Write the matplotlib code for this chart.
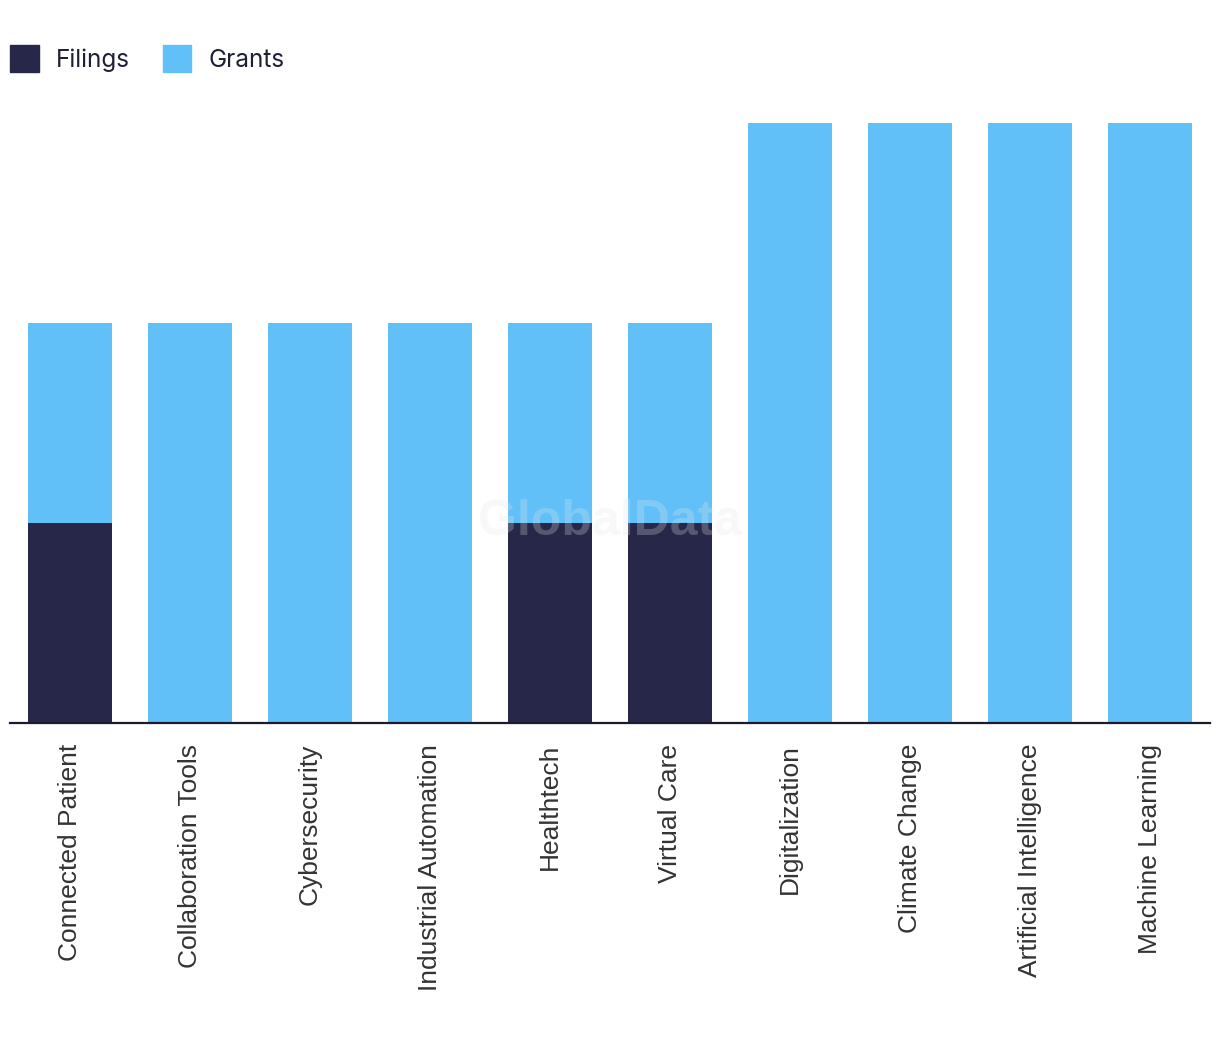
import numpy as np
import matplotlib.pyplot as plt
from matplotlib.patches import Patch

categories = ["Connected Patient", "Collaboration Tools", "Cybersecurity",
              "Industrial Automation", "Healthtech", "Virtual Care",
              "Digitalization", "Climate Change", "Artificial Intelligence",
              "Machine Learning"]
filings = [1, 0, 0, 0, 1, 1, 0, 0, 0, 0]
grants = [1, 2, 2, 2, 1, 1, 3, 3, 3, 3]

dark = "#272849"
light = "#61c0f8"

fig = plt.figure(figsize=(12.2, 10.42), dpi=100)
ax = fig.add_axes([10 / 1220, 1 - 723 / 1042, 1200 / 1220, 600 / 1042])

x = np.arange(len(categories))
ax.bar(x, filings, width=0.7, color=dark, label="Filings")
ax.bar(x, grants, width=0.7, bottom=filings, color=light, label="Grants")

ax.set_xlim(-0.5, len(categories) - 0.5)
ax.set_ylim(0, 3)
ax.set_yticks([])
ax.set_xticks(x)
ax.set_xticklabels(categories, rotation=90, va="top", ha="center",
                   fontsize=19, color="#333333", family="Liberation Sans")
ax.tick_params(axis="x", length=0, pad=15)
for s in ["top", "left", "right"]:
    ax.spines[s].set_visible(False)
ax.spines["bottom"].set_color("#1a1a2e")
ax.spines["bottom"].set_linewidth(1.6)

# watermark
ax.text(0.5, 0.335, "GlobalData", transform=ax.transAxes, ha="center", va="center",
        fontsize=36, fontweight="bold", color="#e6e6e6", alpha=0.25,
        family="Liberation Sans", zorder=5)

handles = [Patch(color=dark, label="Filings"), Patch(color=light, label="Grants")]
fig.legend(handles=handles, loc="upper left",
           bbox_to_anchor=(10 / 1220, 1 - 45 / 1042), ncol=2, frameon=False,
           prop={"family": "Inter", "size": 17.5}, labelcolor="#1f2033",
           handlelength=1.18, handleheight=1.35, handletextpad=0.7,
           columnspacing=1.35, borderpad=0, borderaxespad=0)

fig.savefig("out.png", dpi=100)
